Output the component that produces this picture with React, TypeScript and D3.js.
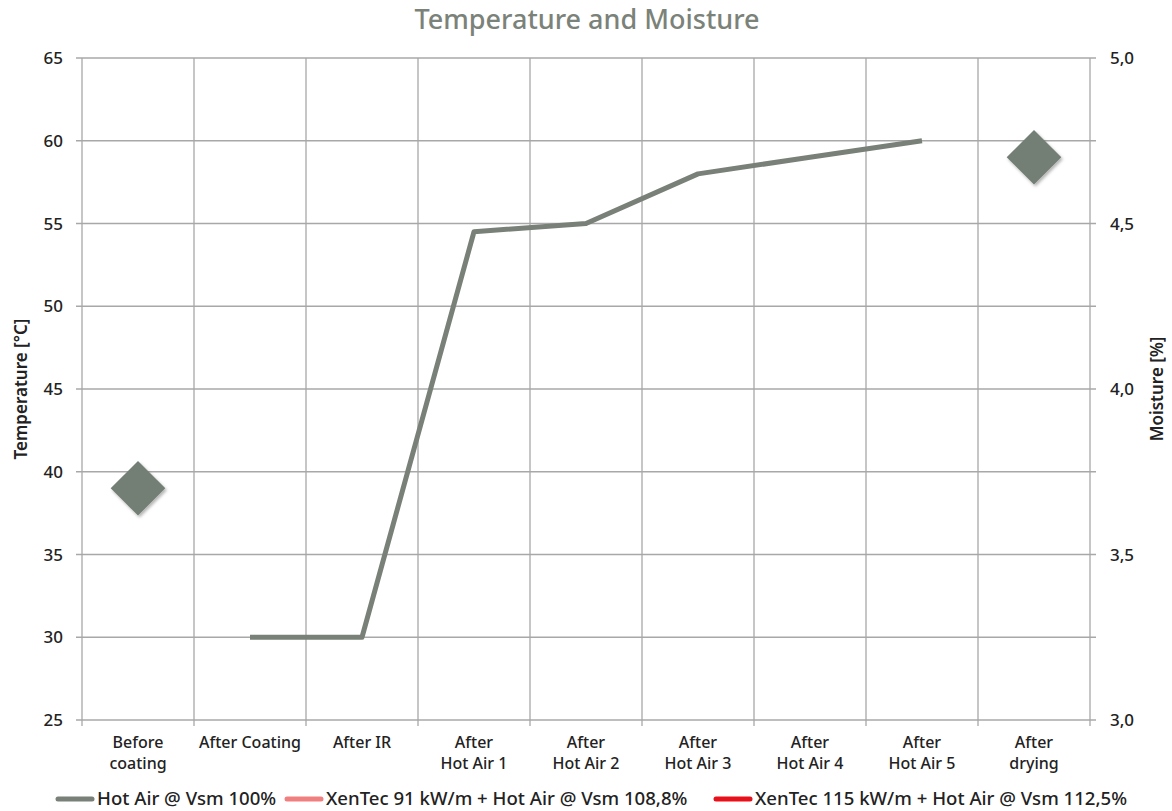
import React from "react";
import * as d3 from "d3";

const categories = [
  ["Before", "coating"],
  ["After Coating"],
  ["After IR"],
  ["After", "Hot Air 1"],
  ["After", "Hot Air 2"],
  ["After", "Hot Air 3"],
  ["After", "Hot Air 4"],
  ["After", "Hot Air 5"],
  ["After", "drying"],
];
const categoryKeys = categories.map((c) => c.join(" "));

// Temperature series (Hot Air @ Vsm 100%), null = no value
const temperature: (number | null)[] = [null, 30, 30, 54.5, 55, 58, 59, 60, null];
// Moisture (right axis), diamonds
const moisture: (number | null)[] = [3.7, null, null, null, null, null, null, null, 4.7];

const leftTicks = [25, 30, 35, 40, 45, 50, 55, 60, 65];
const rightTicks = [3.0, 3.5, 4.0, 4.5, 5.0];

const legendItems = [
  { label: "Hot Air @ Vsm 100%", color: "#788078" },
  { label: "XenTec 91 kW/m + Hot Air @ Vsm 108,8%", color: "#f08080" },
  { label: "XenTec 115 kW/m + Hot Air @ Vsm 112,5%", color: "#e8101a" },
];

const W = 1172;
const H = 811;
const M = { left: 82, right: 1090, top: 58, bottom: 720 };
const FONT = "'Noto Sans', 'Open Sans', sans-serif";
const GRID = "#a8a8a8";
const SERIES = "#788078";

export default function App() {
  const x = d3.scaleBand<string>().domain(categoryKeys).range([M.left, M.right]).padding(0);
  const yL = d3.scaleLinear().domain([25, 65]).range([M.bottom, M.top]);
  const yR = d3.scaleLinear().domain([3, 5]).range([M.bottom, M.top]);
  const cx = (i: number) => (x(categoryKeys[i]) as number) + x.bandwidth() / 2;

  const line = d3
    .line<number | null>()
    .defined((d) => d !== null)
    .x((_, i) => cx(i))
    .y((d) => yL(d as number));

  const boundaries = categoryKeys.map((k) => x(k) as number).concat([M.right]);

  const legendX = [58, 287, 716];

  return (
    <svg width={W} height={H} style={{ position: "absolute", left: 0, top: 0 }}>
      <defs>
        <filter id="sh" x="-50%" y="-50%" width="200%" height="200%">
          <feDropShadow dx="1.5" dy="2" stdDeviation="1.5" floodColor="#000" floodOpacity="0.3" />
        </filter>
      </defs>
      <rect width={W} height={H} fill="#fff" />
      <text x={587} y={29} textAnchor="middle" fontFamily={FONT} fontSize={27} fontWeight={500} fill="#7b8279">
        Temperature and Moisture
      </text>

      {/* horizontal grid */}
      {leftTicks.map((t) => (
        <line key={"h" + t} x1={M.left - 6} x2={M.right + 6} y1={yL(t)} y2={yL(t)} stroke={GRID} strokeWidth={1.3} />
      ))}
      {/* vertical grid */}
      {boundaries.map((b, i) => (
        <line key={"v" + i} x1={b} x2={b} y1={M.top} y2={M.bottom + 6} stroke={GRID} strokeWidth={1.3} />
      ))}

      {/* left tick labels */}
      {leftTicks.map((t) => (
        <text key={"l" + t} x={63} y={yL(t) + 6} textAnchor="end" fontFamily={FONT} fontSize={17} fontWeight={500} fill="#222">
          {t}
        </text>
      ))}
      {/* right tick labels */}
      {rightTicks.map((t) => (
        <text key={"r" + t} x={1110} y={yR(t) + 6} textAnchor="start" fontFamily={FONT} fontSize={17} fontWeight={500} fill="#222">
          {t.toFixed(1).replace(".", ",")}
        </text>
      ))}

      {/* axis titles */}
      <text
        transform={`translate(27,${(M.top + M.bottom) / 2}) rotate(-90)`}
        textAnchor="middle"
        fontFamily={FONT}
        fontSize={17}
        fontWeight={600}
        fill="#222"
      >
        Temperature [°C]
      </text>
      <text
        transform={`translate(1163,${(M.top + M.bottom) / 2}) rotate(-90)`}
        textAnchor="middle"
        fontFamily={FONT}
        fontSize={17}
        fontWeight={600}
        fill="#222"
      >
        Moisture [%]
      </text>

      {/* x labels */}
      {categories.map((c, i) => (
        <text key={"x" + i} x={cx(i)} y={748} textAnchor="middle" fontFamily={FONT} fontSize={16} fontWeight={500} fill="#222">
          {c.map((s, j) => (
            <tspan key={j} x={cx(i)} dy={j === 0 ? 0 : 21}>
              {s}
            </tspan>
          ))}
        </text>
      ))}

      {/* temperature line */}
      <path d={line(temperature) || ""} fill="none" stroke={SERIES} strokeWidth={5} strokeLinejoin="round" />

      {/* moisture diamonds */}
      {moisture.map((m, i) =>
        m === null ? null : (
          <path
            key={"d" + i}
            d={d3.symbol().type(d3.symbolDiamond2).size(1900)() || ""}
            transform={`translate(${cx(i)},${yR(m)})`}
            fill="#737e74"
            filter="url(#sh)"
          />
        )
      )}

      {/* legend */}
      {legendItems.map((it, i) => (
        <g key={"lg" + i}>
          <line x1={legendX[i]} x2={legendX[i] + 34} y1={799} y2={799} stroke={it.color} strokeWidth={5} strokeLinecap="round" />
          <text x={legendX[i] + 39} y={805} fontFamily={FONT} fontSize={18.6} fontWeight={500} fill="#222">
            {it.label}
          </text>
        </g>
      ))}
    </svg>
  );
}
